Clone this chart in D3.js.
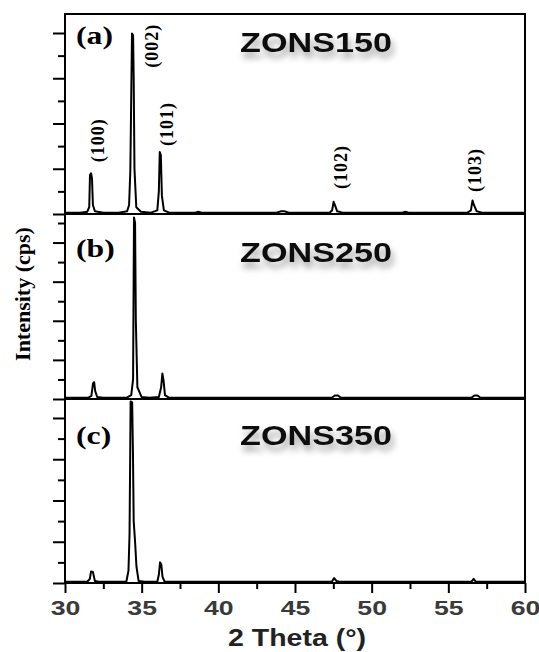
<!DOCTYPE html>
<html>
<head>
<meta charset="utf-8">
<script src="https://cdn.jsdelivr.net/npm/d3@7"></script>
<style>
  body { margin: 0; background: #fff; }
</style>
</head>
<body>
<div id="chart"></div>
<script>
// 2 theta ticks
const xMajorTicks = [30, 35, 40, 45, 50, 55, 60]
const xMinorTicks = [32.5, 37.5, 42.5, 47.5, 52.5, 57.5]
const yMajorTicks = [0, 1, 2, 3, 4]
const yMinorTicks = [0.5, 1.5, 2.5, 3.5, 4.5]

const panelLabels = ["(a)", "(b)", "(c)"]
const sampleNames = ["ZONS150", "ZONS250", "ZONS350"]

// hkl labels for panel (a): text, 2theta, intensity level of label centre
const hklLabels = ["(100)", "(002)", "(101)", "(102)", "(103)"]
const hklTheta = [32.1, 35.65, 36.65, 47.95, 56.75]
const hklLevel = [1.63, 3.72, 1.99, 1.04, 0.97]

// patterns: [2theta, intensity (tick units)]
const zons150 = [
  [30, 0.03], [31.0, 0.03], [31.45, 0.05], [31.58, 0.15], [31.63, 0.86], [31.7, 0.9],
  [31.76, 0.78], [31.82, 0.2], [31.95, 0.06], [32.5, 0.03], [33.5, 0.03], [34.05, 0.06],
  [34.18, 0.2], [34.26, 0.95], [34.32, 2.6], [34.37, 3.99], [34.44, 3.95], [34.48, 3.0],
  [34.53, 1.0], [34.65, 0.15], [34.95, 0.05], [35.6, 0.03], [36.02, 0.08], [36.12, 0.5],
  [36.18, 1.37], [36.25, 1.3], [36.32, 0.4], [36.45, 0.08], [36.8, 0.03], [38.5, 0.03],
  [38.7, 0.05], [38.9, 0.03], [43.8, 0.03], [44.1, 0.06], [44.3, 0.06], [44.6, 0.03],
  [47.25, 0.03], [47.42, 0.08], [47.52, 0.27], [47.6, 0.2], [47.75, 0.06], [48.1, 0.03],
  [52.0, 0.03], [52.2, 0.05], [52.4, 0.03], [56.25, 0.03], [56.47, 0.08], [56.58, 0.3],
  [56.67, 0.2], [56.85, 0.06], [57.2, 0.03], [60, 0.03]
]
const zons250 = [
  [30, 0.03], [31.5, 0.03], [31.72, 0.08], [31.83, 0.4], [31.9, 0.43], [31.97, 0.2],
  [32.1, 0.05], [32.5, 0.03], [34.0, 0.03], [34.32, 0.1], [34.44, 0.5], [34.5, 4.64],
  [34.57, 4.5], [34.62, 2.0], [34.72, 0.3], [35.0, 0.05], [35.5, 0.03], [36.12, 0.05],
  [36.27, 0.3], [36.35, 0.65], [36.42, 0.5], [36.52, 0.1], [36.8, 0.03], [47.4, 0.03],
  [47.6, 0.09], [47.8, 0.09], [48.0, 0.03], [56.5, 0.03], [56.7, 0.09], [56.9, 0.09],
  [57.1, 0.03], [60, 0.03]
]
const zons350 = [
  [30, 0.03], [31.45, 0.03], [31.62, 0.1], [31.7, 0.28], [31.82, 0.27], [31.95, 0.05],
  [32.2, 0.03], [34.0, 0.03], [34.14, 0.3], [34.21, 1.2], [34.28, 4.4], [34.38, 4.38],
  [34.43, 3.2], [34.48, 1.5], [34.57, 1.0], [34.66, 0.4], [34.8, 0.05], [35.2, 0.03],
  [36.02, 0.03], [36.12, 0.2], [36.2, 0.5], [36.28, 0.45], [36.36, 0.15], [36.5, 0.03],
  [47.4, 0.03], [47.55, 0.12], [47.7, 0.05], [47.9, 0.03], [56.5, 0.03], [56.65, 0.1],
  [56.8, 0.03], [60, 0.03]
]
const patterns = [zons150, zons250, zons350]

const width = 539
const height = 652
const left = 65
const right = 525
const panels = [
  { top: 14, bottom: 214, yMax: 4.42 },
  { top: 214, bottom: 399, yMax: 4.73 },
  { top: 399, bottom: 583, yMax: 4.46 }
]
const serif = "'Liberation Serif', 'Times New Roman', serif"
const sans = "'Liberation Sans', Arial, sans-serif"

const svg = d3.select("#chart")
  .append("svg")
  .attr("width", width)
  .attr("height", height)

// soft shadow under the sample names
const defs = svg.append("defs")
const shadow = defs.append("filter")
  .attr("id", "shadow")
  .attr("x", "-20%").attr("y", "-40%")
  .attr("width", "140%").attr("height", "200%")
shadow.append("feDropShadow")
  .attr("dx", 2).attr("dy", 6)
  .attr("stdDeviation", 3)
  .attr("flood-color", "#000")
  .attr("flood-opacity", 0.35)

const x = d3.scaleLinear()
  .domain([30, 60])
  .range([left, right])

panels.forEach((p, i) => {
  const y = d3.scaleLinear()
    .domain([0, p.yMax])
    .range([p.bottom, p.top])

  // left ticks, major + minor
  svg.append("g")
    .attr("transform", `translate(${left},0)`)
    .call(d3.axisLeft(y).tickValues(yMajorTicks).tickSize(12).tickFormat(""))
    .call(g => g.select(".domain").remove())
    .call(g => g.selectAll("line").attr("stroke-width", 2))
  svg.append("g")
    .attr("transform", `translate(${left},0)`)
    .call(d3.axisLeft(y).tickValues(yMinorTicks.filter(v => v < p.yMax)).tickSize(7).tickFormat(""))
    .call(g => g.select(".domain").remove())
    .call(g => g.selectAll("line").attr("stroke-width", 2))

  // panel separator / baseline
  svg.append("line")
    .attr("x1", left).attr("x2", right)
    .attr("y1", p.bottom).attr("y2", p.bottom)
    .attr("stroke", "#000")
    .attr("stroke-width", 2)

  const line = d3.line()
    .x(d => x(d[0]))
    .y(d => y(d[1]))
  svg.append("path")
    .datum(patterns[i])
    .attr("d", line)
    .attr("fill", "none")
    .attr("stroke", "#000")
    .attr("stroke-width", 2)
    .attr("stroke-linejoin", "round")

  svg.append("text")
    .attr("transform", `translate(76,${p.top + [30, 43, 45][i]}) scale(1.22,1)`)
    .attr("font-family", serif)
    .attr("font-weight", "bold")
    .attr("font-size", 26)
    .text(panelLabels[i])

  svg.append("text")
    .attr("transform", `translate(316,${p.top + [38, 48, 46][i]}) scale(1.22,1)`)
    .attr("text-anchor", "middle")
    .attr("font-family", sans)
    .attr("font-weight", "bold")
    .attr("font-size", 28)
    .attr("fill", "#111")
    .attr("filter", "url(#shadow)")
    .text(sampleNames[i])

  if (i === 0) {
    svg.append("g")
      .selectAll("text")
      .data(hklLabels)
      .join("text")
      .attr("transform", (d, k) => `translate(${x(hklTheta[k])},${y(hklLevel[k])}) rotate(-90)`)
      .attr("text-anchor", "middle")
      .attr("dy", "0.35em")
      .attr("font-family", serif)
      .attr("font-weight", "bold")
      .attr("font-size", 18)
      .attr("letter-spacing", 1)
      .text(d => d)
  }
})

// outer frame
svg.append("rect")
  .attr("x", left)
  .attr("y", panels[0].top)
  .attr("width", right - left)
  .attr("height", panels[2].bottom - panels[0].top)
  .attr("fill", "none")
  .attr("stroke", "#000")
  .attr("stroke-width", 2)

// bottom axis
svg.append("g")
  .attr("transform", `translate(0,${panels[2].bottom})`)
  .call(d3.axisBottom(x).tickValues(xMinorTicks).tickSize(6).tickFormat(""))
  .call(g => g.select(".domain").remove())
  .call(g => g.selectAll("line").attr("stroke-width", 2))
svg.append("g")
  .attr("transform", `translate(0,${panels[2].bottom})`)
  .call(d3.axisBottom(x).tickValues(xMajorTicks).tickSize(10).tickPadding(7).tickFormat(d3.format("d")))
  .call(g => g.select(".domain").remove())
  .call(g => g.selectAll("line").attr("stroke-width", 2))
  .call(g => g.selectAll("text")
    .attr("transform", "scale(1.27,1)")
    .attr("font-family", sans)
    .attr("font-weight", "bold")
    .attr("font-size", 21)
    .attr("fill", "#3a3a3a"))

// axis titles
svg.append("text")
  .attr("transform", "translate(297,646) scale(1.24,1)")
  .attr("text-anchor", "middle")
  .attr("font-family", sans)
  .attr("font-weight", "bold")
  .attr("font-size", 23)
  .attr("fill", "#222")
  .text("2 Theta (°)")

svg.append("text")
  .attr("transform", "translate(30,294) rotate(-90)")
  .attr("text-anchor", "middle")
  .attr("font-family", serif)
  .attr("font-weight", "bold")
  .attr("font-size", 22)
  .text("Intensity (cps)")
</script>
</body>
</html>
